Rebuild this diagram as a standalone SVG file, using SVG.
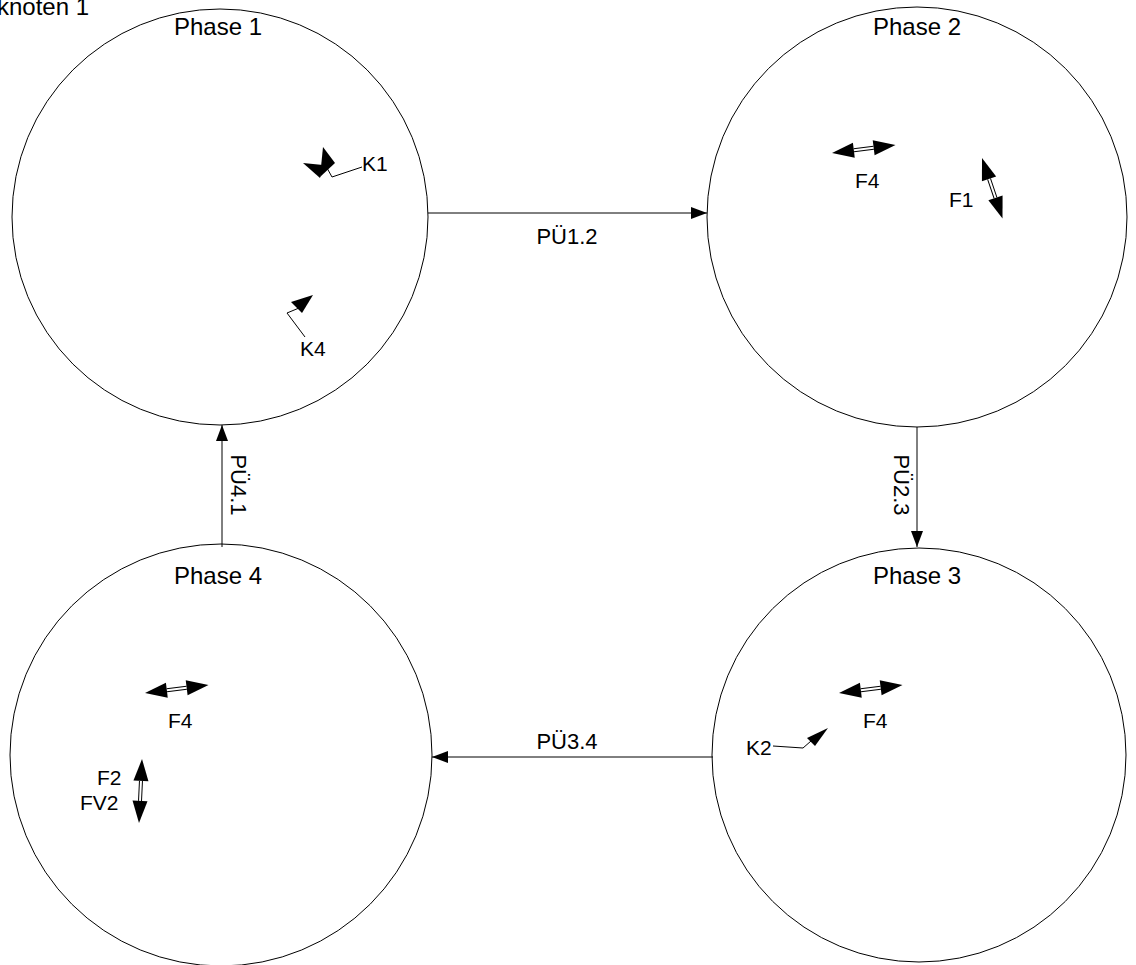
<svg xmlns="http://www.w3.org/2000/svg" width="1136" height="965" viewBox="0 0 1136 965">
<style>
text{font-family:"Liberation Sans",Arial,sans-serif;fill:#000}
.ph{font-size:24px;text-anchor:middle}
.lb{font-size:21px}
.cl{font-size:22px;text-anchor:middle}
.circ{fill:#fff;stroke:#000;stroke-width:1}
.con{stroke:#000;stroke-width:1;fill:none}
.thin{stroke:#000;stroke-width:1;fill:none}
</style>
<defs>
<marker id="ah" markerUnits="userSpaceOnUse" markerWidth="18" markerHeight="12" refX="16" refY="6" orient="auto">
<path d="M0,0 L16,6 L0,12 Z" fill="#000"/>
</marker>
<g id="dbl">
<path d="M0,0 L22,-7.5 L22,7.5 Z" fill="#000"/>
<path d="M64,0 L42,-7.5 L42,7.5 Z" fill="#000"/>
<path d="M22,-1.5 H42 M22,1.5 H42" stroke="#000" stroke-width="1" fill="none"/>
</g>
</defs>
<rect width="1136" height="965" fill="#fff"/>
<text x="-3" y="15" font-size="24">knoten 1</text>

<g id="phase1">
<circle class="circ" cx="220" cy="217" r="208"/>
<text class="ph" x="218" y="35">Phase 1</text>
<path d="M323,147 L335,163 L320,177 Z" fill="#000"/>
<path d="M303,163 L323,165 L320,178 Z" fill="#000"/>
<polyline class="thin" points="327,168 332,177 362,167"/>
<text class="lb" x="362" y="171">K1</text>
<path d="M313,295 L291,302 L302,313 Z" fill="#000"/>
<polyline class="thin" points="299,308 287,313 305,337"/>
<text class="lb" x="300" y="356">K4</text>
</g>

<g id="phase2">
<circle class="circ" cx="917" cy="217" r="210"/>
<text class="ph" x="917" y="35">Phase 2</text>
<use href="#dbl" transform="translate(832,153) rotate(-7.1)"/>
<text class="lb" x="855" y="188">F4</text>
<use href="#dbl" transform="translate(982,158) rotate(71.3)"/>
<text class="lb" x="949" y="207">F1</text>
</g>

<g id="phase3">
<circle class="circ" cx="919" cy="755" r="207"/>
<text class="ph" x="917" y="584">Phase 3</text>
<use href="#dbl" transform="translate(839,693) rotate(-7.1)"/>
<text class="lb" x="863" y="728">F4</text>
<path d="M828,728 L807,738 L815,746 Z" fill="#000"/>
<polyline class="thin" points="773,746 803,748 811,741"/>
<text class="lb" x="746" y="755">K2</text>
</g>

<g id="phase4">
<circle class="circ" cx="221" cy="755" r="211"/>
<text class="ph" x="218" y="584">Phase 4</text>
<use href="#dbl" transform="translate(145,693) rotate(-7.1)"/>
<text class="lb" x="168" y="728">F4</text>
<use href="#dbl" transform="translate(142,759) rotate(92.7)"/>
<text class="lb" x="97" y="785">F2</text>
<text class="lb" x="80" y="810">FV2</text>
</g>

<g id="connectors">
<line class="con" x1="428" y1="213" x2="707" y2="213" marker-end="url(#ah)"/>
<text class="cl" x="567" y="244">PÜ1.2</text>
<line class="con" x1="917" y1="427" x2="917" y2="547" marker-end="url(#ah)"/>
<text class="cl" transform="translate(894,485) rotate(90)">PÜ2.3</text>
<line class="con" x1="713" y1="757" x2="432" y2="757" marker-end="url(#ah)"/>
<text class="cl" x="567" y="749">PÜ3.4</text>
<line class="con" x1="222" y1="547" x2="222" y2="425" marker-end="url(#ah)"/>
<text class="cl" transform="translate(231,485) rotate(90)">PÜ4.1</text>
</g>
</svg>
